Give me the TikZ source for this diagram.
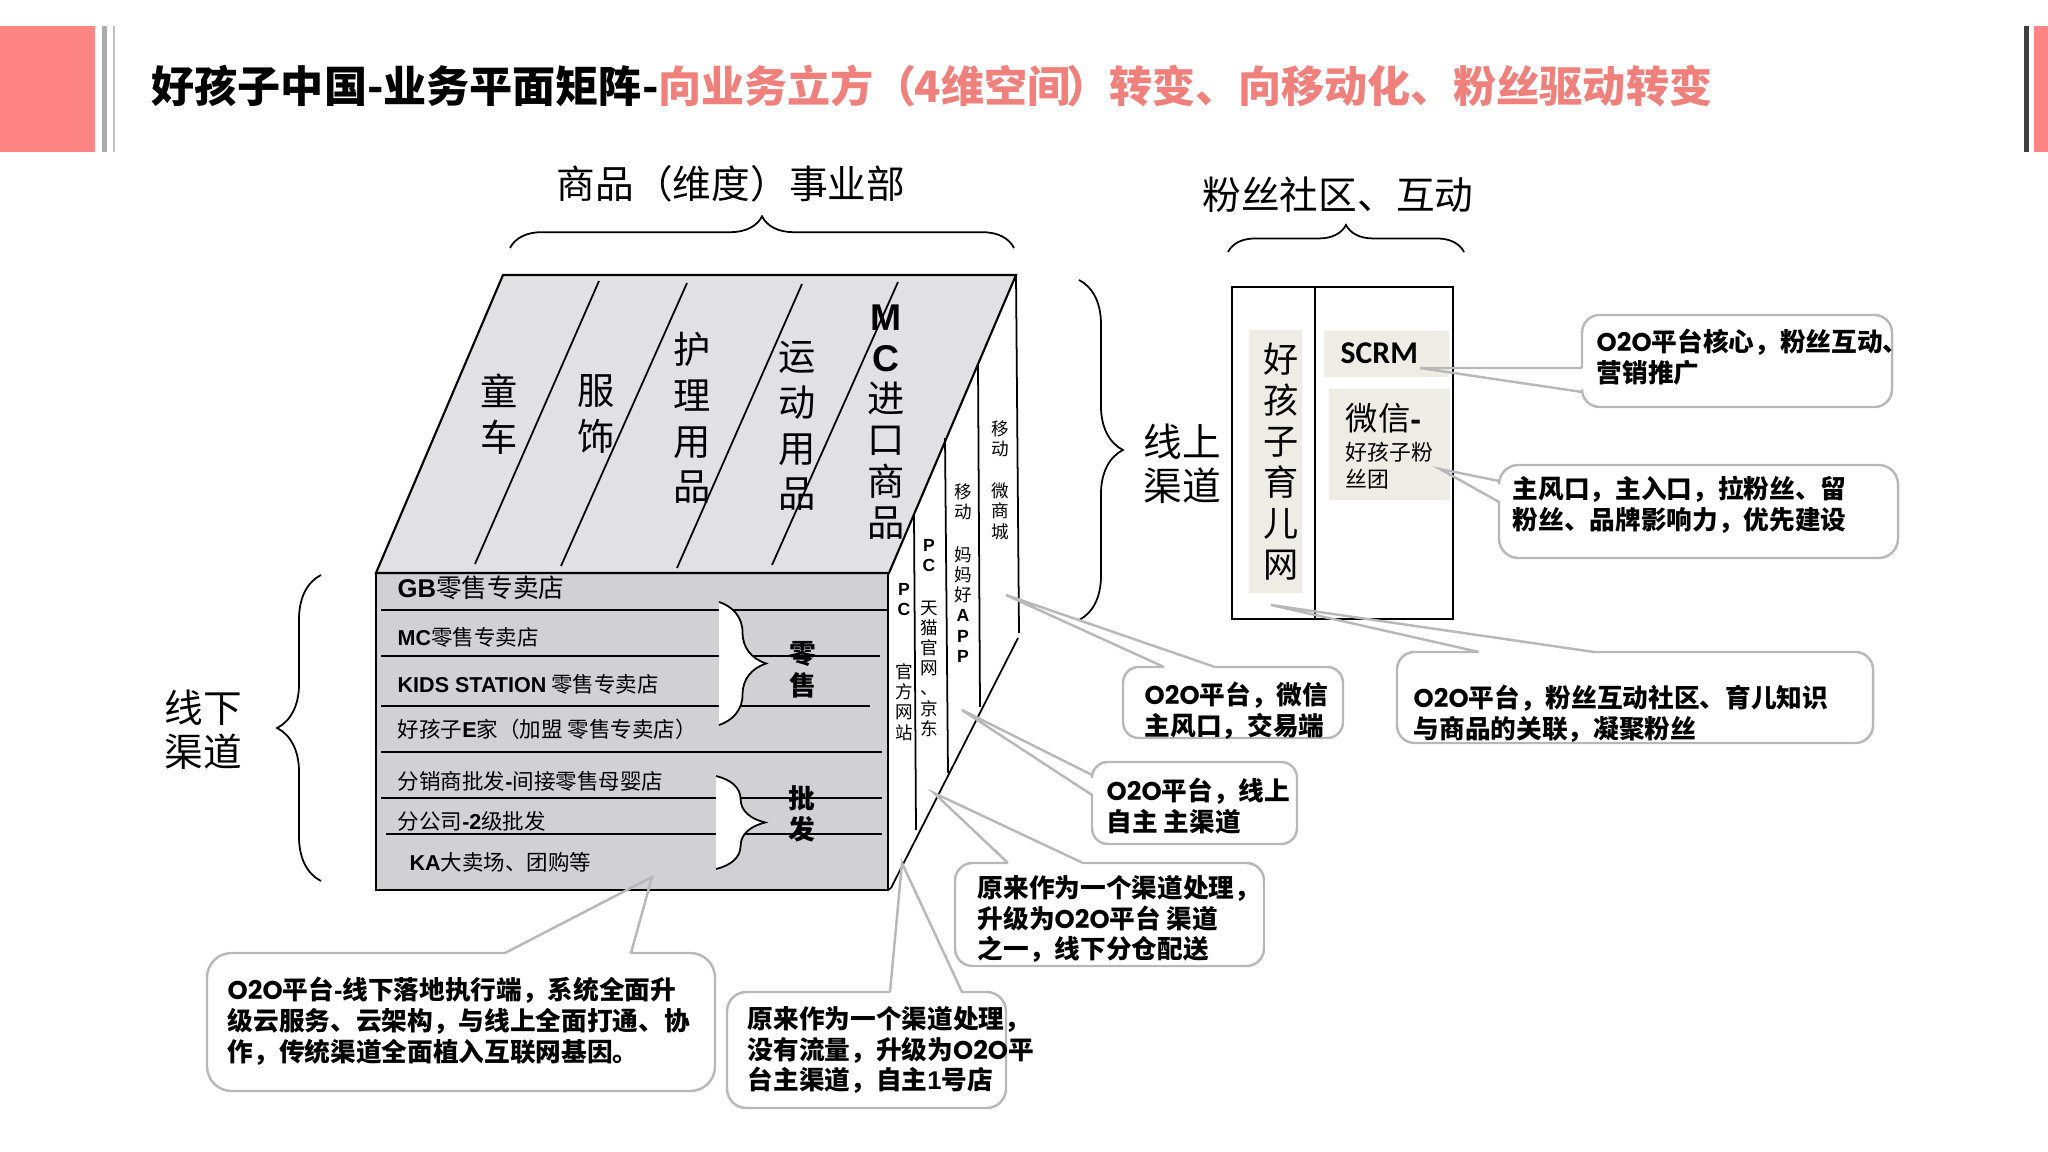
\documentclass[tikz,border=0pt]{standalone}
\usepackage{fontspec}
\setmainfont{Noto Sans CJK SC}
\newfontfamily\arial{Liberation Sans}
\newfontfamily\geom{Poppins}
\newfontfamily\carl{Carlito}
\usetikzlibrary{decorations.pathreplacing}
\definecolor{salmon}{HTML}{FF8585}
\definecolor{titlered}{HTML}{F0807C}
\definecolor{topface}{HTML}{E1E1E4}
\definecolor{frontface}{HTML}{D1D0D3}
\definecolor{beige}{HTML}{EDEDE5}
\definecolor{calloutgray}{HTML}{B8B8B8}
\newcommand{\lat}[1]{{\arial\bfseries #1}}
\newcommand{\oto}{{\geom\bfseries O2O}}
\tikzset{
  outline/.style={draw=black,line width=0.6pt},
  thinline/.style={draw=black,line width=0.5pt},
  curly/.style={decorate,decoration={brace,amplitude=#1},draw=black,line width=0.5pt},
  biglabel/.style={font=\fontsize{11}{12.6}\selectfont,align=center,inner sep=0pt},
  stacklabel/.style={font=\fontsize{10.6}{13}\selectfont,align=center,inner sep=0pt},
  tinylabel/.style={font=\fontsize{5}{5.75}\selectfont,align=center,inner sep=0pt},
  rowlabel/.style={font=\fontsize{6.12}{7}\selectfont,anchor=west,inner sep=0pt},
  groupword/.style={font=\fontsize{7.6}{9}\bfseries\selectfont,align=center,inner sep=0pt},
  calloutline/.style={draw=calloutgray,line width=0.7pt},
  callouttext/.style={font=\fontsize{7.3}{8.75}\bfseries\selectfont,align=left,anchor=west,inner sep=0pt},
}
\begin{document}
\begin{tikzpicture}[x=0.01cm,y=-0.01cm]
\useasboundingbox (0,0) rectangle (2048,1152);

% header
\fill[salmon] (0,26) rectangle (95,152);
\fill[gray!65] (102,26) rectangle (107,152);
\fill[gray!50] (113,26) rectangle (115,152);
\fill[black!75] (2024,26) rectangle (2029,152);
\fill[salmon] (2034,26) rectangle (2048,152);
\node (title) at (151,86) [anchor=west,inner sep=0pt,font=\fontsize{12.25}{14}\bfseries\selectfont]
  {好孩子中国-业务平面矩阵-\textcolor{titlered}{向业务立方（\hspace{-0.05em}4维空间\hspace{-0.1em}）转变、向移动化、粉丝驱动转变}};

% cube
\fill[topface] (503,275) -- (1016,275) -- (889,573) -- (376,573) -- cycle;
\fill[frontface] (376,573) rectangle (888,890);
\draw[outline] (503,275) -- (1016,275) -- (889,573) -- (376,573) -- cycle;
\draw[outline] (376,573) rectangle (888,890);
\foreach \xa/\ya/\xb/\yb in {599/281/475/564,687/283/561/566,802/284/677/568,898/282/772/565}
  \draw[thinline] (\xa,\ya) -- (\xb,\yb);
\foreach \ya/\xa/\xb in {610/381/887,656/381/880,706/381/870,752/381/882,798/381/882,834/386/882}
  \draw[outline] (\xa,\ya) -- (\xb,\ya);

% side channels
\draw[thinline] (1016,275) -- (1019,633);
\draw[thinline] (1018,638) -- (891,888);
\draw[thinline] (888,890) -- (891,888);
\draw[thinline] (978,365) -- (980,707);
\draw[thinline] (945,438) -- (948,773);
\draw[thinline] (914,515) -- (916,830);

% braces
\draw[curly=9pt] (510,248) -- (1014,248);
\draw[curly=7.7pt] (1228,252) -- (1464,252);
\draw[curly=12.5pt] (321,881) -- (321,575);
\draw[curly=12.5pt] (1079,280) -- (1079,620);
\draw[curly=13.4pt,fill=white] (719,602) -- (719,725);
\draw[curly=14pt,fill=white] (716,776) -- (716,869);

% headings
\node (goods) at (731,184) [biglabel] {商品（维度）事业部};
\node (fans) at (1338,195) [biglabel] {粉丝社区、互动};
\node (online) at (1182,464) [biglabel] {线上\\渠道};
\node (offline) at (203,730) [biglabel] {线下\\渠道};

% top face words
\node (toys) at (499,414) [stacklabel] {童\\车};
\node (wear) at (596,414) [stacklabel] {服\\饰};
\node (care) at (692,418) [stacklabel] {护\\理\\用\\品};
\node (sport) at (797,426) [stacklabel] {运\\动\\用\\品};
\node (mc) at (886,422) [stacklabel,font=\fontsize{10.6}{11.72}\selectfont] {\lat{M}\\\lat{C}\\进\\口\\商\\品};

% side words
\node (wshop) at (1000,480) [tinylabel] {移\\动\\[6.3pt]微\\商\\城};
\node (app) at (963,573) [tinylabel] {移\\动\\[6.3pt]妈\\妈\\好\\\lat{A}\\\lat{P}\\\lat{P}};
\node (tmall) at (929,638) [tinylabel] {\lat{P}\\\lat{C}\\[6.3pt]天\\猫\\官\\网\\、\\京\\东};
\node (site) at (904,662) [tinylabel] {\lat{P}\\\lat{C}\\[12pt]官\\方\\网\\站};

% rows
\node (gb) at (397,588) [rowlabel,font=\fontsize{7.3}{9}\selectfont] {\lat{GB}零售专卖店};
\node (mcrow) at (397,637) [rowlabel] {\lat{MC}零售专卖店};
\node (kids) at (397,684) [rowlabel] {\lat{KIDS STATION} 零售专卖店};
\node (ejia) at (397,729) [rowlabel] {好孩子\lat{E}家（加盟 零售专卖店）};
\node (dist) at (397,781) [rowlabel] {分销商批发\lat{-}间接零售母婴店};
\node (branch) at (397,821) [rowlabel] {分公司\lat{-2}级批发};
\node (ka) at (409,862) [rowlabel] {\lat{KA}大卖场、团购等};
\node (retail) at (803,670) [groupword] {零\\售};
\node (whole) at (802,814) [groupword] {批\\发};

% fan community box
\fill[beige] (1249,330) rectangle (1302,593);
\fill[beige] (1324,331) rectangle (1449,377);
\fill[beige] (1329,389) rectangle (1450,500);
\draw[outline] (1232,287) rectangle (1453,619);
\draw[outline] (1315,287) -- (1315,619);
\node (parent) at (1281,462) [font=\fontsize{10}{11.65}\selectfont,align=center,inner sep=0pt] {好\\孩\\子\\育\\儿\\网};
\node (scrm) at (1340,353) [anchor=west,inner sep=0pt,font=\fontsize{9}{10}\selectfont\carl\bfseries] {SCRM};
\node (wechat) at (1345,418) [anchor=west,inner sep=0pt,font=\fontsize{9.2}{10}\selectfont] {微信\lat{-}};
\node (wegroup) at (1345,466) [anchor=west,align=left,inner sep=0pt,font=\fontsize{6.2}{7.7}\selectfont] {好孩子粉\\丝团};

% callouts
\coordinate (scrmtip) at (1420,368);
\coordinate (wechattip) at (1440,469);
\coordinate (parenttip) at (1271,605);
\coordinate (wshoptip) at (1006,595);
\coordinate (apptip) at (962,710);
\coordinate (tmalltip) at (934,793);
\coordinate (sitetip) at (902,863);
\coordinate (fronttip) at (652,877);

\draw[calloutline] (1582,368) -- (scrmtip) -- (1582,392) [rounded corners=5pt] -- (1582,407) -- (1892,407) -- (1892,315) -- (1582,315) -- (1582,368);
\draw[calloutline] (1499,481) -- (wechattip) -- (1499,502) [rounded corners=5.5pt] -- (1499,558) -- (1898,558) -- (1898,465) -- (1499,465) -- (1499,481);
\draw[calloutline] (1479,652) -- (parenttip) -- (1594,652) [rounded corners=5pt] -- (1873,652) -- (1873,743) -- (1397,743) -- (1397,652) -- (1479,652);
\draw[calloutline] (1164,667) -- (wshoptip) -- (1215,667) [rounded corners=4.5pt] -- (1343,667) -- (1343,738) -- (1123,738) -- (1123,667) -- (1164,667);
\draw[calloutline] (1092,775) -- (apptip) -- (1092,795) [rounded corners=4.5pt] -- (1092,844) -- (1297,844) -- (1297,762) -- (1092,762) -- (1092,775);
\draw[calloutline] (1008,863) -- (tmalltip) -- (1083,863) [rounded corners=5pt] -- (1264,863) -- (1264,966) -- (955,966) -- (955,863) -- (1008,863);
\draw[calloutline] (890,992) -- (sitetip) -- (962,992) [rounded corners=5.5pt] -- (1006,992) -- (1006,1108) -- (727,1108) -- (727,992) -- (890,992);
\draw[calloutline] (505,953) -- (fronttip) -- (631,953) [rounded corners=7pt] -- (715,953) -- (715,1091) -- (207,1091) -- (207,953) -- (505,953);

\node (scrmnote) at (1596,357) [callouttext] {\oto 平台核心，粉丝互动、\\营销推广};
\node (wechatnote) at (1512,505) [callouttext] {主风口，主入口，拉粉丝、留\\粉丝、品牌影响力，优先建设};
\node (parentnote) at (1413,714) [callouttext] {\oto 平台，粉丝互动社区、育儿知识\\与商品的关联，凝聚粉丝};
\node (wshopnote) at (1144,711) [callouttext] {\oto 平台，微信\\主风口，交易端};
\node (appnote) at (1106,806) [callouttext] {\oto 平台，线上\\自主 主渠道};
\node (tmallnote) at (977,919) [callouttext] {原来作为一个渠道处理，\\升级为\oto 平台 渠道\\之一，线下分仓配送};
\node (sitenote) at (747,1050) [callouttext] {原来作为一个渠道处理，\\没有流量，升级为\oto 平\\台主渠道，自主\lat{1}号店};
\node (frontnote) at (227,1021) [callouttext] {\oto 平台\lat{-}线下落地执行端，系统全面升\\级云服务、云架构，与线上全面打通、协\\作，传统渠道全面植入互联网基因。};
\end{tikzpicture}
\end{document}
